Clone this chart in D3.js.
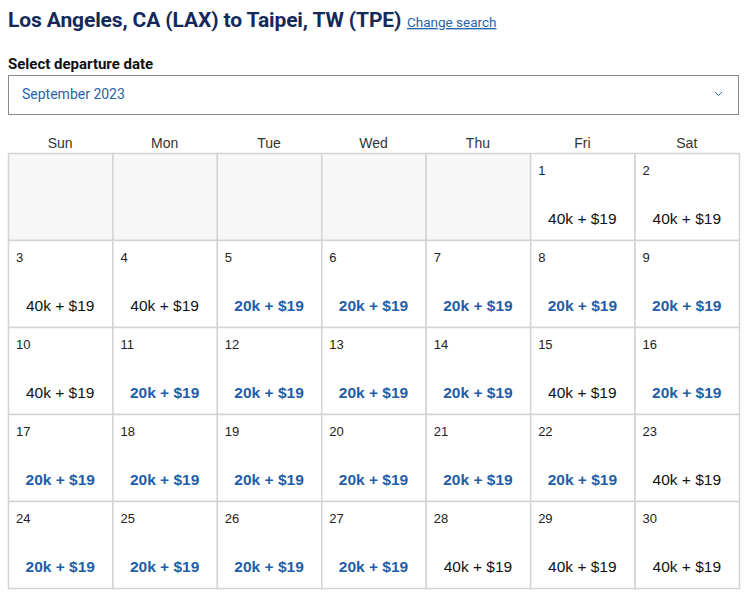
<!DOCTYPE html>
<html><head><meta charset="utf-8">
<script src="https://cdn.jsdelivr.net/npm/d3@7"></script>
<style>body{margin:0;background:#fff;font-family:Arial,"Liberation Sans",sans-serif}</style>
</head><body><svg id="c" width="750" height="598"></svg>
<script>
const weekdays = ["Sun","Mon","Tue","Wed","Thu","Fri","Sat"];
const days = d3.range(1,31);
const miles = [40,40,40,40,20,20,20,20,20,40,20,20,20,20,40,20,20,20,20,20,20,20,40,20,20,20,20,40,40,40];
const fee = 19;
const firstWeekday = 5;

const svg = d3.select("#c");
svg.append("text").attr("x",8).attr("y",27).attr("font-size",21).attr("font-weight","bold")
  .attr("fill","#13295a").attr("font-family","Roboto, Arial, sans-serif").attr("letter-spacing",-0.12)
  .text("Los Angeles, CA (LAX) to Taipei, TW (TPE)");
svg.append("text").attr("x",407).attr("y",27).attr("font-size",13.5).attr("fill","#2a63a8")
  .attr("text-decoration","underline").attr("font-family","Roboto, Arial, sans-serif").text("Change search");
svg.append("text").attr("x",8).attr("y",69).attr("font-size",15).attr("font-weight","bold")
  .attr("fill","#111").attr("font-family","Roboto, Arial, sans-serif").text("Select departure date");
svg.append("rect").attr("x",8.5).attr("y",75.5).attr("width",730).attr("height",39)
  .attr("fill","#fff").attr("stroke","#8a8a8a");
svg.append("text").attr("x",22).attr("y",99).attr("font-size",14).attr("fill","#2a63a8")
  .attr("font-family","Roboto, Arial, sans-serif").text("September 2023");
svg.append("path").attr("d","M715,92 l3.5,3.5 l3.5,-3.5").attr("fill","none").attr("stroke","#2a63a8");

const x = d3.scaleBand().domain(d3.range(7)).range([8,739]);
const y = d3.scaleBand().domain(d3.range(5)).range([153,588]);
svg.selectAll(".wd").data(weekdays).join("text").attr("x",(d,i)=>x(i)+x.bandwidth()/2).attr("y",148)
  .attr("text-anchor","middle").attr("font-size",14).attr("fill","#333").text(d=>d);

const cells = d3.range(35).map(i=>({i, day: i-firstWeekday+1}));
const g = svg.selectAll(".cell").data(cells).join("g").attr("transform",d=>`translate(${x(d.i%7)},${y(Math.floor(d.i/7))})`);
g.append("rect").attr("x",0.5).attr("y",0.5).attr("width",x.bandwidth()).attr("height",y.bandwidth())
  .attr("fill",d=>d.day<1?"#f7f7f7":"#fff").attr("stroke","#d4d4d4").attr("stroke-width",1.5);
const v = g.filter(d=>d.day>=1&&d.day<=30);
v.append("text").attr("x",8).attr("y",22).attr("font-size",13).attr("fill","#222").text(d=>d.day);
v.append("text").attr("x",x.bandwidth()/2).attr("y",71).attr("text-anchor","middle").attr("font-size",15.5)
  .attr("font-weight",d=>miles[d.day-1]===20?"bold":"normal")
  .attr("fill",d=>miles[d.day-1]===20?"#1f5ea8":"#111")
  .text(d=>`${miles[d.day-1]}k + $${fee}`);
</script></body></html>
